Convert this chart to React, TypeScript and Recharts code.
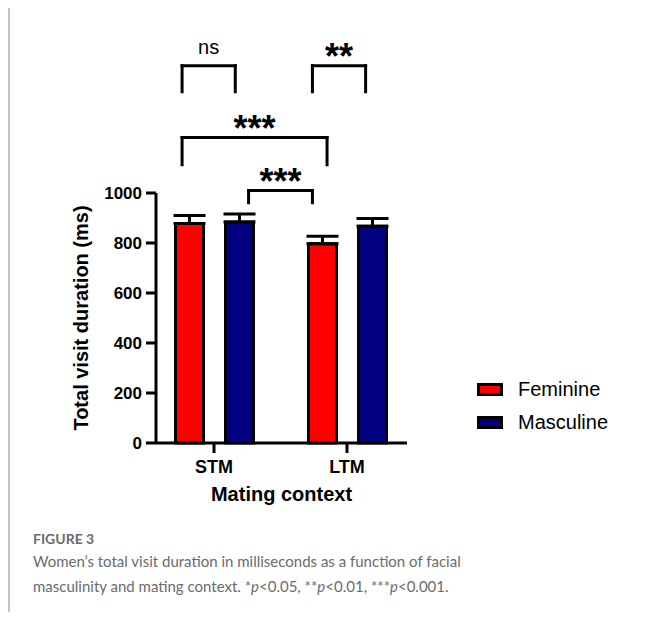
import React from 'react';
import { BarChart, Bar, XAxis, YAxis, ErrorBar, ReferenceLine, Legend, Label } from 'recharts';

const categories = ['STM', 'LTM'];
const feminine = [878, 797];
const masculine = [884, 867];
const feminineErr = [32, 30];
const masculineErr = [32, 31];
const yTicks = [0, 200, 400, 600, 800, 1000];

const seriesNames = ['Feminine', 'Masculine'];
const seriesColors = ['#ff0000', '#000080'];

// significance brackets: ends on the category index scale (STM = 0, LTM = 1), heights in ms
const bracketFrom = [-0.24, 0.74, -0.24, 0.26];
const bracketTo = [0.16, 1.14, 0.85, 0.74];
const bracketTop = [1509, 1509, 1222, 1010];
const bracketLeg = [1405, 1405, 1113, 961];
const bracketText = ['ns', '**', '***', '***'];

const data = categories.map((c, i) => ({
  context: c,
  idx: i,
  Feminine: feminine[i],
  Masculine: masculine[i],
  femErr: [0, feminineErr[i]],
  mascErr: [0, masculineErr[i]],
}));

const FONT = '"Liberation Sans", Arial, sans-serif';
const PAD = { left: -8.5, right: -6.5 };

const LegendContent = () => (
  <div style={{ fontFamily: FONT, fontSize: 20, color: '#000' }}>
    {seriesNames.map((n, i) => (
      <div key={n} style={{ display: 'flex', alignItems: 'center', height: 33 }}>
        <div
          style={{
            width: 26,
            height: 13,
            boxSizing: 'border-box',
            border: '3px solid #000',
            background: seriesColors[i],
            marginRight: 15,
          }}
        />
        <span>{n}</span>
      </div>
    ))}
  </div>
);

export default function App() {
  const brackets = bracketText.map((t, i) => ({
    from: bracketFrom[i],
    to: bracketTo[i],
    top: bracketTop[i],
    leg: bracketLeg[i],
    text: t,
  }));
  return (
    <div style={{ position: 'relative', width: 646, height: 604 }}>
      <div
        style={{
          position: 'absolute',
          left: 0,
          top: -3,
          width: 654,
          height: 620,
          borderTop: '2px solid #c2c2c2',
          borderLeft: '2px solid #c2c2c2',
        }}
      />
      <div style={{ position: 'absolute', left: -8, top: -8 }}>
        <BarChart
          width={662}
          height={520}
          data={data}
          margin={{ top: 193, right: 255, bottom: 17, left: 70 }}
          barSize={28}
          barGap={22}
        >
          <XAxis
            dataKey="context"
            padding={PAD}
            height={60}
            tickSize={10}
            tickMargin={7}
            axisLine={{ stroke: '#000', strokeWidth: 3 }}
            tickLine={{ stroke: '#000', strokeWidth: 3 }}
            tick={{ fill: '#000', fontSize: 18, fontWeight: 'bold', fontFamily: FONT }}
          >
            <Label
              content={(props: any) => {
                const vb = props.viewBox || {};
                return (
                  <text
                    x={vb.x + vb.width / 2}
                    y={vb.y + 58}
                    textAnchor="middle"
                    fontFamily={FONT}
                    fontWeight="bold"
                    fontSize={20}
                    fill="#000"
                  >
                    Mating context
                  </text>
                );
              }}
            />
          </XAxis>
          <XAxis
            xAxisId="ann"
            dataKey="idx"
            type="number"
            domain={[-0.5, 1.5]}
            padding={PAD}
            hide
            allowDataOverflow
          />
          <YAxis
            width={86}
            domain={[0, 1000]}
            ticks={yTicks}
            interval={0}
            tickSize={10}
            tickMargin={4}
            axisLine={{ stroke: '#000', strokeWidth: 3 }}
            tickLine={{ stroke: '#000', strokeWidth: 3 }}
            tick={{ fill: '#000', fontSize: 17, fontWeight: 'bold', fontFamily: FONT }}
          >
            <Label
              content={(props: any) => {
                const vb = props.viewBox || {};
                const cx = vb.x + 18;
                const cy = vb.y + vb.height / 2;
                return (
                  <text
                    x={cx}
                    y={cy}
                    transform={`rotate(-90 ${cx} ${cy})`}
                    textAnchor="middle"
                    fontFamily={FONT}
                    fontWeight="bold"
                    fontSize={20}
                    fill="#000"
                  >
                    Total visit duration (ms)
                  </text>
                );
              }}
            />
          </YAxis>
          <Legend
            layout="horizontal"
            verticalAlign="middle"
            align="center"
            content={<LegendContent />}
            wrapperStyle={{ left: 477, top: 373, width: 180 }}
          />
          {seriesNames.map((n, i) => (
            <Bar key={n} dataKey={n} fill={seriesColors[i]} stroke="#000" strokeWidth={3} isAnimationActive={false}>
              <ErrorBar
                dataKey={i === 0 ? 'femErr' : 'mascErr'}
                width={16}
                stroke="#000"
                strokeWidth={3}
                direction="y"
                isAnimationActive={false}
              />
            </Bar>
          ))}
          {brackets.map((b, i) => (
            <ReferenceLine
              key={`l${i}`}
              xAxisId="ann"
              segment={[
                { x: b.from, y: b.leg },
                { x: b.from, y: b.top },
              ]}
              stroke="#000"
              strokeWidth={3}
              strokeLinecap="square"
              ifOverflow="visible"
            />
          ))}
          {brackets.map((b, i) => (
            <ReferenceLine
              key={`r${i}`}
              xAxisId="ann"
              segment={[
                { x: b.to, y: b.leg },
                { x: b.to, y: b.top },
              ]}
              stroke="#000"
              strokeWidth={3}
              strokeLinecap="square"
              ifOverflow="visible"
            />
          ))}
          {brackets.map((b, i) => (
            <ReferenceLine
              key={`t${i}`}
              xAxisId="ann"
              segment={[
                { x: b.from, y: b.top },
                { x: b.to, y: b.top },
              ]}
              stroke="#000"
              strokeWidth={3}
              strokeLinecap="square"
              ifOverflow="visible"
              label={{
                value: b.text,
                position: 'top',
                offset: b.text === 'ns' ? 12 : -3,
                fill: '#000',
                fontSize: b.text === 'ns' ? 20 : 36,
                fontWeight: b.text === 'ns' ? 'normal' : 'bold',
                fontFamily: FONT,
              }}
            />
          ))}
        </BarChart>
      </div>
      <div
        style={{
          position: 'absolute',
          left: 25,
          top: 521,
          fontFamily: 'Lato, "Open Sans", sans-serif',
          color: '#6b6b6b',
        }}
      >
        <div style={{ fontSize: 14, fontWeight: 'bold', lineHeight: '20px' }}>FIGURE 3</div>
        <div style={{ fontSize: 15, lineHeight: '25px', width: 620 }}>
          Women’s total visit duration in milliseconds as a function of facial
          <br />
          masculinity and mating context. *<i>p</i>&lt;0.05, **<i>p</i>&lt;0.01, ***<i>p</i>&lt;0.001.
        </div>
      </div>
    </div>
  );
}
